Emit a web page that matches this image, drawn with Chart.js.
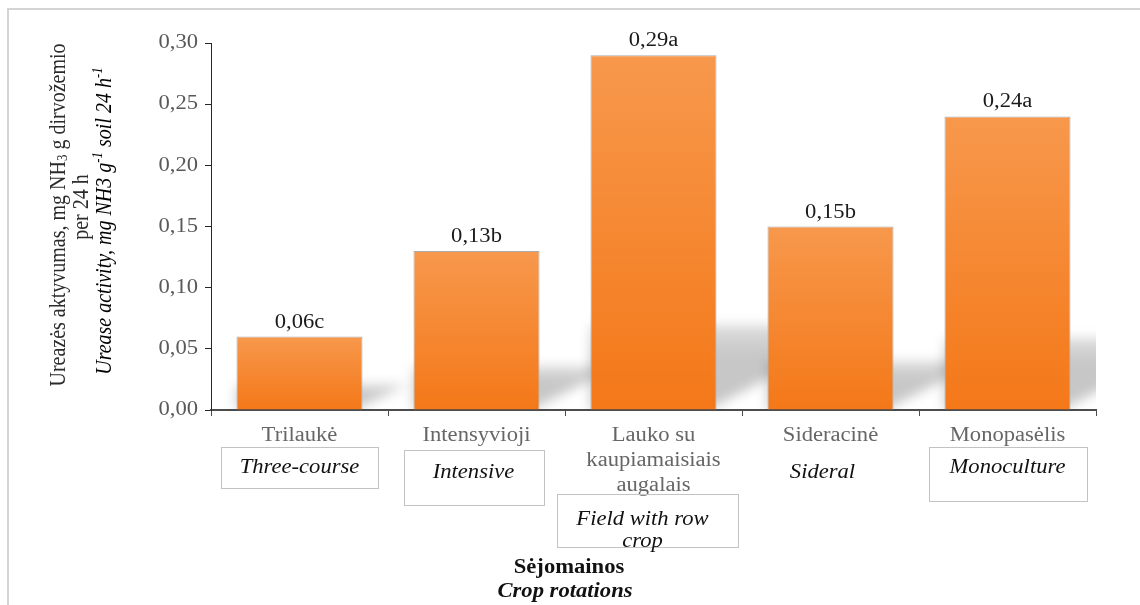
<!DOCTYPE html>
<html lang="lt">
<head>
<meta charset="utf-8">
<title>Ureazės aktyvumas sėjomainose</title>
<script src="https://cdn.jsdelivr.net/npm/chart.js@4.4.1/dist/chart.umd.min.js"></script>
<style>
  html, body { margin: 0; padding: 0; background: #ffffff; }
  canvas { display: block; }
</style>
</head>
<body>
<canvas id="chart" width="1140" height="605"></canvas>
<script>
// Crop rotations (Lithuanian axis names and English captions)
const categories = ['Trilaukė', 'Intensyvioji', ['Lauko su', 'kaupiamaisiais', 'augalais'], 'Sideracinė', 'Monopasėlis'];
const englishNames = [['Three-course'], ['Intensive'], ['Field with row', 'crop'], ['Sideral'], ['Monoculture']];

// Urease activity, mg NH3 g-1 soil 24 h-1
const activity = [0.06, 0.13, 0.29, 0.15, 0.24];
// Significance letters
const letters = ['c', 'b', 'a', 'b', 'a'];

// Value axis
const yMin = 0;
const yMax = 0.30;
const yStep = 0.05;

const SERIF = "'Liberation Serif', 'Times New Roman', serif";
const SX = 1.13; // horizontal stretch of the lettering

function fmt(v) { return v.toFixed(2).replace('.', ','); }

function stretchedText(ctx, txt, x, y, font, color, align, baseline) {
  ctx.save();
  ctx.font = font;
  ctx.fillStyle = color;
  ctx.textAlign = align || 'center';
  ctx.textBaseline = baseline || 'middle';
  ctx.translate(x, y);
  ctx.scale(SX, 1);
  ctx.fillText(txt, 0, 0);
  ctx.restore();
}

// Rotated multi-font line, centred on (cx, cy), reading bottom to top
function rotatedRich(ctx, segs, cx, cy, color) {
  ctx.save();
  ctx.translate(cx, cy);
  ctx.rotate(-Math.PI / 2);
  ctx.scale(1, SX);
  ctx.fillStyle = color;
  ctx.textBaseline = 'middle';
  ctx.textAlign = 'left';
  let total = 0;
  segs.forEach(s => { ctx.font = s.f; s.w = ctx.measureText(s.t).width; total += s.w; });
  let x = -total / 2;
  segs.forEach(s => { ctx.font = s.f; ctx.fillText(s.t, x, s.dy || 0); x += s.w; });
  ctx.restore();
}

// Soft skewed shadow cast behind each bar
const barShadows = {
  id: 'barShadows',
  beforeDatasetsDraw(chart) {
    const { ctx, chartArea } = chart;
    const meta = chart.getDatasetMeta(0);
    ctx.save();
    ctx.beginPath();
    ctx.rect(chartArea.left, chartArea.top, chartArea.right - chartArea.left, chartArea.bottom - chartArea.top);
    ctx.clip();
    ctx.filter = 'blur(6px)';
    meta.data.forEach(bar => {
      const p = bar.getProps(['x', 'y', 'base', 'width'], true);
      const L = p.x - p.width / 2, R = p.x + p.width / 2;
      const h = 10 + 0.21 * (p.base - p.y);
      const g = ctx.createLinearGradient(0, p.base - h, 0, p.base);
      g.addColorStop(0, 'rgba(0,0,0,0.13)');
      g.addColorStop(0.35, 'rgba(0,0,0,0.22)');
      g.addColorStop(1, 'rgba(0,0,0,0.22)');
      ctx.fillStyle = g;
      ctx.beginPath();
      ctx.moveTo(L, p.base);
      ctx.lineTo(R - 8, p.base);
      ctx.lineTo(R + h / 0.55, p.base - h);
      ctx.lineTo(L, p.base - h);
      ctx.closePath();
      ctx.fill();
    });
    ctx.restore();
  }
};

// Frame, tick labels, value labels, category names, captions and titles
const annotations = {
  id: 'annotations',
  beforeDraw(chart) {
    const { ctx } = chart;
    ctx.save();
    ctx.fillStyle = '#ffffff';
    ctx.fillRect(0, 0, chart.width, chart.height);
    ctx.strokeStyle = '#d4d4d4';
    ctx.lineWidth = 2;
    ctx.beginPath();
    ctx.moveTo(8, chart.height);
    ctx.lineTo(8, 9);
    ctx.lineTo(chart.width, 9);
    ctx.stroke();
    ctx.restore();
  },
  afterDraw(chart) {
    const { ctx, scales } = chart;
    const xs = scales.x, ys = scales.y;

    // value axis labels
    ys.ticks.forEach(t => {
      stretchedText(ctx, fmt(t.value), ys.right - 13, ys.getPixelForValue(t.value),
        `20px ${SERIF}`, '#595959', 'right', 'middle');
    });

    // value labels above bars
    const meta = chart.getDatasetMeta(0);
    meta.data.forEach((bar, i) => {
      stretchedText(ctx, fmt(activity[i]) + letters[i], bar.x, bar.y - 9,
        `20px ${SERIF}`, '#1a1a1a', 'center', 'alphabetic');
    });

    // category names
    const base = ys.getPixelForValue(0);
    categories.forEach((c, i) => {
      const lines = Array.isArray(c) ? c : [c];
      const cx = xs.getPixelForValue(i);
      lines.forEach((ln, k) => {
        stretchedText(ctx, ln, cx, base + 26 + k * 25, `20px ${SERIF}`, '#666666', 'center', 'middle');
      });
    });

    // English captions in boxes: [dx from category centre, top, width, height, text centre y]
    const boxes = [
      { dx: 0, top: 447, w: 157, h: 41, ty: 468, box: true },
      { dx: -3, top: 450, w: 140, h: 55, ty: 473, box: true },
      { dx: -6, top: 494, w: 181, h: 53, ty: 520, box: true },
      { dx: -8, top: 0, w: 0, h: 0, ty: 473, box: false },
      { dx: 0, top: 447, w: 158, h: 54, ty: 468, box: true }
    ];
    englishNames.forEach((lines, i) => {
      const b = boxes[i];
      const cx = xs.getPixelForValue(i) + b.dx;
      if (b.box) {
        ctx.save();
        ctx.strokeStyle = '#c3c3c3';
        ctx.lineWidth = 1;
        ctx.strokeRect(Math.round(cx - b.w / 2) + 0.5, b.top + 0.5, b.w, b.h);
        ctx.restore();
      }
      lines.forEach((ln, k) => {
        stretchedText(ctx, ln, cx - (lines.length > 1 ? 5 : 0), b.ty + k * 22,
          `italic 20px ${SERIF}`, '#111111', 'center', 'middle');
      });
    });

    // category axis title
    stretchedText(ctx, 'Sėjomainos', 569, 568, `bold 20px ${SERIF}`, '#111111', 'center', 'middle');
    stretchedText(ctx, 'Crop rotations', 565, 592, `italic bold 20px ${SERIF}`, '#111111', 'center', 'middle');

    // value axis title
    const cy = 215;
    rotatedRich(ctx, [
      { t: 'Ureazės aktyvumas, mg NH', f: `20px ${SERIF}` },
      { t: '3', f: `13px ${SERIF}`, dy: 4 },
      { t: ' g dirvožemio', f: `20px ${SERIF}` }
    ], 59, cy, '#2b2b2b');
    rotatedRich(ctx, [{ t: 'per 24 h', f: `20px ${SERIF}` }], 82, cy - 8, '#2b2b2b');
    rotatedRich(ctx, [
      { t: 'Urease activity, mg NH3 g', f: `italic 20px ${SERIF}` },
      { t: '-1', f: `italic 13px ${SERIF}`, dy: -6 },
      { t: ' soil 24 h', f: `italic 20px ${SERIF}` },
      { t: '-1', f: `italic 13px ${SERIF}`, dy: -6 }
    ], 105, cy + 6, '#000000');
  }
};

new Chart(document.getElementById('chart'), {
  type: 'bar',
  data: {
    labels: categories,
    datasets: [{
      data: activity,
      backgroundColor: (c) => {
        const ch = c.chart;
        if (!ch.chartArea || c.raw === undefined) return '#f58a32';
        const top = ch.scales.y.getPixelForValue(c.raw);
        const bottom = ch.scales.y.getPixelForValue(0);
        const g = ch.ctx.createLinearGradient(0, top, 0, bottom);
        g.addColorStop(0, '#f7984c');
        g.addColorStop(1, '#f47818');
        return g;
      },
      borderColor: '#ababab',
      borderWidth: 1,
      borderSkipped: 'bottom',
      categoryPercentage: 0.712,
      barPercentage: 1
    }]
  },
  options: {
    responsive: false,
    devicePixelRatio: 1,
    animation: false,
    layout: { padding: { top: 43, right: 44, left: 0, bottom: 0 } },
    plugins: { legend: { display: false }, tooltip: { enabled: false } },
    scales: {
      x: {
        offset: true,
        grid: { display: true, drawOnChartArea: false, drawTicks: true, tickLength: 6, color: '#4d4d4d', offset: true },
        border: { display: true, color: '#4d4d4d', width: 2 },
        ticks: { display: false },
        afterFit: (s) => { s.height = 195; }
      },
      y: {
        min: yMin,
        max: yMax,
        grid: { display: true, drawOnChartArea: false, drawTicks: true, tickLength: 6, color: '#262626' },
        border: { display: true, color: '#262626', width: 1 },
        ticks: { display: false, stepSize: yStep },
        afterFit: (s) => { s.width = 211; }
      }
    }
  },
  plugins: [barShadows, annotations]
});
</script>
</body>
</html>
